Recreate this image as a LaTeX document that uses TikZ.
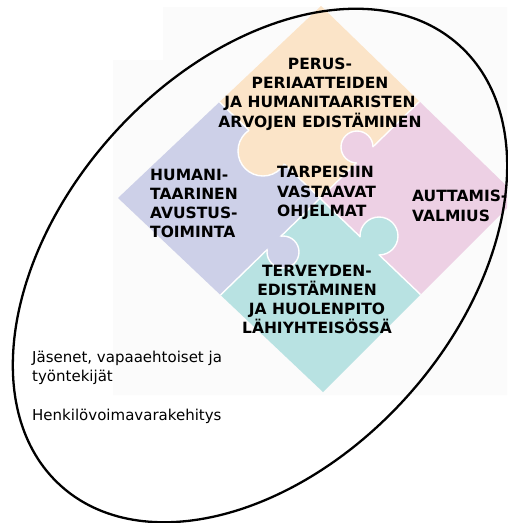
\documentclass[tikz,border=0pt]{standalone}
\usepackage{fontspec}
\setmainfont{DejaVu Sans}
\definecolor{peach}{RGB}{251,228,200}
\definecolor{lav}{RGB}{205,208,232}
\definecolor{pinkc}{RGB}{237,208,228}
\definecolor{tealc}{RGB}{184,226,226}
\definecolor{bgc}{RGB}{251,251,251}
\begin{document}
\begin{tikzpicture}[x=1pt,y=-1pt,
  seam/.style={white,line width=1.4pt},
  big/.style={font=\bfseries\fontsize{15.5}{19.3}\selectfont, inner sep=0pt, text=black},
  small/.style={font=\fontsize{15}{18.5}\selectfont, inner sep=0pt, align=left}]
\useasboundingbox (0,0) rectangle (507,523);
\coordinate (T) at (321,6);
\coordinate (L) at (118,198);
\coordinate (B) at (323,392);
\coordinate (R) at (518,197);
\coordinate (TL) at (219.5,102);
\coordinate (TR) at (419.5,101.5);
\coordinate (BL) at (220.5,295);
\coordinate (BR) at (420.5,294.5);
\coordinate (C) at (320,198.25);
\coordinate (kP) at (263,151);
\coordinate (kR) at (357,147);
\coordinate (kT) at (379,236);
\coordinate (kL) at (283,252);
\begin{scope}
\clip (0,0) rectangle (507,523);
\fill[bgc] (163,7) -- (507,7) -- (507,395) -- (113,395) -- (113,60) -- (163,60) -- cycle;
\fill[peach] (T) -- (TR) -- (C) -- (TL) -- cycle;
\fill[lav] (TL) -- (C) -- (BL) -- (L) -- cycle;
\fill[pinkc] (TR) -- (R) -- (BR) -- (C) -- cycle;
\fill[tealc] (C) -- (BR) -- (B) -- (BL) -- cycle;
\draw[seam] (TL) -- (BR);
\draw[seam] (TR) -- (BL);
\fill[peach] (kP) circle (25);
\fill[pinkc] (kR) circle (16);
\fill[tealc] (kT) circle (19);
\fill[lav] (kL) circle (16);
\begin{scope}
\clip (TL) -- (C) -- (BL) -- (L) -- cycle;
\draw[seam] (kP) circle (25);
\end{scope}
\begin{scope}
\clip (T) -- (TR) -- (C) -- (TL) -- cycle;
\draw[seam] (kR) circle (16);
\end{scope}
\begin{scope}
\clip (TR) -- (R) -- (BR) -- (C) -- cycle;
\draw[seam] (kT) circle (19);
\end{scope}
\begin{scope}
\clip (C) -- (BR) -- (B) -- (BL) -- cycle;
\draw[seam] (kL) circle (16);
\end{scope}
\end{scope}
\node[big, align=center] (top) at (320,94) {PERUS-\\PERIAATTEIDEN\\JA HUMANITAARISTEN\\ARVOJEN EDISTÄMINEN};
\node[big, align=left, anchor=west] (left) at (150,203.5) {HUMANI-\\TAARINEN\\AVUSTUS-\\TOIMINTA};
\node[big, align=left, anchor=west] (mid) at (277,193) {TARPEISIIN\\VASTAAVAT\\OHJELMAT};
\node[big, align=left, anchor=west] (right) at (412,206) {AUTTAMIS-\\VALMIUS};
\node[big, align=center] (bottom) at (317,299.5) {TERVEYDEN-\\EDISTÄMINEN\\JA HUOLENPITO\\LÄHIYHTEISÖSSÄ};
\node[small, anchor=west] (members) at (32,368) {Jäsenet, vapaaehtoiset ja\\työntekijät};
\node[small, anchor=west] (hr) at (32,416) {Henkilövoimavarakehitys};
\draw[line width=2.3pt, rotate around={47.8:(260,265.5)}] (260,265.5) ellipse [x radius=297, y radius=197];
\end{tikzpicture}
\end{document}
